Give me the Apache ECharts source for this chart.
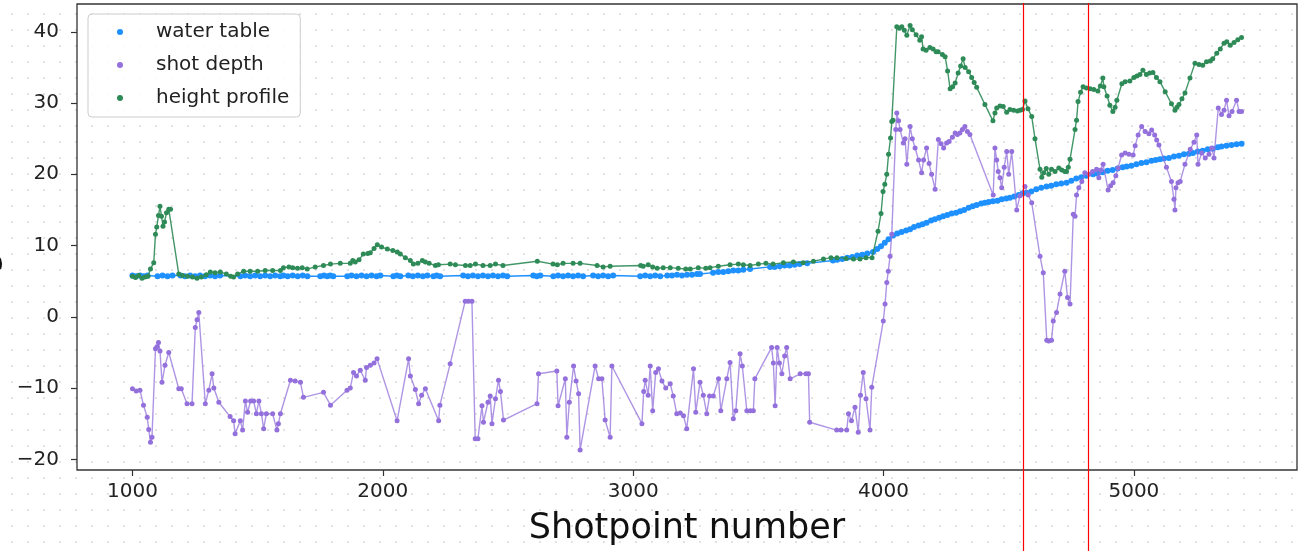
<!DOCTYPE html>
<html>
<head>
<meta charset="utf-8">
<script src="https://cdn.jsdelivr.net/npm/echarts@6/dist/echarts.min.js"></script>
<style>
  html, body { margin: 0; padding: 0; }
  body {
    width: 1299px; height: 551px; overflow: hidden;
    background-color: #fff;
    background-image: radial-gradient(circle, #e2e2e2 0.9px, transparent 1.3px);
    background-size: 16px 16px;
    background-position: 4px 6px;
  }
  #chart { width: 1299px; height: 551px; }
</style>
</head>
<body>
<div id="chart"></div>
<script>
// water table (blue dots)
const wtX = [1000,1015,1030,1045,1060, 1100,1120,1140,1160,
  1192,1210,1230,1250,1270,1290,1310,1330,1350,
  1431,1450,1470,1490,1510,1530,1550,1570,1590,1603,
  1620,1640,1660,1680,1699, 1750,1765,1778, 1790,1802,
  1858,1875,1895,1915,1935,1955,1975,1990, 2042,2056,2070,
  2102,2120,2140,2160,2178, 2202,2215,2229,
  2321,2340,2360,2380,2400,2420,2440,2460,2480,2497, 2601,2615,2629,
  2681,2700,2720,2740,2760,2780,2800, 2840,2860,2880,2900,2920,
  3028,3048,3068,3088,3108, 3136,3155,3175,3195,3215,3235,3255,3267,
  3319,3340,3360,3380,3400,3420,3440,3467,
  3547,3565,3585,3605,3625,3645,3665,3695,
  3798,3815,3835,3855,3875,3895,3915,3935,3958,
  3975,3990,4005,4020,4038,4055,4072,4090,4106,4122,4140,4156,4172,4190,4205,4222,4238,
  4255,4272,4290,4306,4322,4340,4356,4372,4390,4405,4420,4437,4455,4472,4490,4505,
  4522,4540,4555,4571,4590,4610,4630,4651,4670,4690,4710,4731,4750,4770,4790,4810,
  4837,4855,4875,4895,4915,4935,4955,4971,4990,5010,5030,5050,5070,5087,5104,
  5120,5140,5160,5180,5200,5220,5236,5255,5275,5295,5315,5335,5350,5370,5390,5410,5430]
const wtY = [5.8,5.7,5.8,5.7,5.8, 5.7,5.8,5.7,5.8,
  5.8,5.7,5.8,5.7,5.8,5.7,5.8,5.7,5.8,
  5.7,5.8,5.7,5.8,5.7,5.8,5.7,5.8,5.7,5.8,
  5.7,5.8,5.7,5.8,5.7, 5.7,5.8,5.7, 5.8,5.7,
  5.7,5.8,5.7,5.8,5.7,5.8,5.7,5.8, 5.7,5.8,5.7,
  5.8,5.7,5.8,5.7,5.8, 5.7,5.8,5.7,
  5.8,5.7,5.8,5.7,5.8,5.7,5.8,5.7,5.8,5.7, 5.8,5.7,5.8,
  5.7,5.8,5.7,5.8,5.7,5.8,5.7, 5.8,5.7,5.8,5.7,5.8,
  5.7,5.8,5.7,5.8,5.7, 5.8,5.8,5.9,5.8,5.9,5.9,6.0,6.0,
  6.2,6.3,6.3,6.4,6.5,6.5,6.6,6.7,
  7.0,7.0,7.1,7.2,7.2,7.3,7.4,7.5,
  7.9,8.0,8.1,8.3,8.4,8.6,8.7,8.9,9.1,
  9.5,9.9,10.4,10.9,11.4,11.7,11.9,12.1,12.3,12.6,12.8,13.0,13.2,13.5,13.7,13.9,14.1,
  14.3,14.5,14.6,14.8,15.0,15.3,15.5,15.7,15.9,16.0,16.1,16.2,16.3,16.5,16.6,16.7,
  16.9,17.1,17.3,17.4,17.6,17.9,18.1,18.3,18.4,18.6,18.7,18.8,19.1,19.4,19.6,19.8,
  20.0,20.1,20.3,20.5,20.6,20.8,21.0,21.1,21.2,21.4,21.6,21.7,21.9,22.0,22.1,
  22.2,22.3,22.5,22.6,22.8,22.9,23.0,23.2,23.3,23.5,23.6,23.8,23.9,24.0,24.1,24.2,24.3]

// shot depth (purple)
const sdX = [1000,1015,1030,1044,1059,1065,1072,1078,1092,1098,1104,1110,1118,1130,1145,
  1185,1195,1218,1238,1251,1258,1265,1291,1305,1318,1325,1345,1390,1404,1410,1431,1440,
  1451,1460,1472,1484,1495,1505,1515,1524,1535,1560,1577,1583,1591,1631,1650,1671,1683,
  1763,1791,1857,1870,1883,1895,1910,1930,1935,1950,1965,1977,2057,2103,2110,2130,2143,
  2155,2170,2223,2228,2269,2329,2342,2356,2369,2380,2396,2402,2420,2429,2436,2450,2462,
  2470,2482,2616,2622,2695,2700,2729,2735,2745,2762,2772,2782,2788,2848,2862,2875,2888,
  2908,2915,3035,3042,3048,3060,3068,3078,3090,3101,3115,3130,3148,3160,3174,3188,3201,
  3214,3241,3250,3267,3280,3294,3305,3320,3341,3350,3374,3387,3400,3410,3427,3436,3454,
  3468,3480,3486,3553,3560,3567,3575,3584,3594,3605,3613,3627,3667,3690,3700,3705,3813,
  3830,3853,3860,3872,3886,3899,3908,3919,3930,3946,3953,3999,4006,4013,4019,4026,4033,
  4049,4053,4060,4066,4079,4086,4093,4106,4115,4126,4140,4152,4160,4172,4182,4192,4206,
  4219,4230,4240,4252,4262,4275,4286,4295,4305,4315,4325,4335,4345,4438,4445,4452,4458,
  4465,4472,4482,4492,4500,4512,4532,4545,4565,4578,4592,4625,4638,4652,4660,4671,4678,
  4691,4705,4724,4735,4745,4758,4765,4771,4780,4792,4804,4820,4835,4851,4860,4868,4877,
  4897,4907,4917,4928,4937,4951,4965,4980,4997,5005,5017,5031,5045,5060,5071,5083,5091,
  5100,5130,5150,5160,5164,5168,5176,5185,5204,5225,5240,5251,5256,5271,5285,5300,5311,
  5320,5337,5350,5360,5370,5380,5392,5410,5420,5430]
const sdY = [-10.1,-10.4,-10.3,-12.4,-14.1,-15.8,-17.6,-16.9,-4.5,-4.2,-3.6,-4.8,-9.2,-6.8,-5.0,
  -10.1,-10.1,-12.2,-12.2,-1.5,-0.4,0.6,-12.2,-10.3,-8.0,-10.0,-12.0,-14.0,-14.6,-16.4,-14.6,-15.9,
  -11.8,-13.4,-11.8,-11.8,-13.6,-11.8,-13.6,-15.7,-13.6,-13.6,-15.9,-15.0,-13.6,-8.9,-9.0,-9.2,-11.3,
  -10.6,-12.4,-10.3,-10.0,-7.8,-8.3,-7.5,-8.9,-7.1,-6.8,-6.5,-5.9,-14.6,-5.9,-8.3,-10.2,-12.2,
  -11.0,-10.1,-14.6,-12.4,-6.6,2.2,2.2,2.2,-17.1,-17.1,-12.5,-14.8,-12.0,-11.1,-15.0,-11.5,-8.9,
  -10.5,-14.5,-12.2,-8.0,-7.6,-12.5,-8.7,-16.9,-12.0,-6.9,-9.0,-10.8,-18.7,-6.9,-8.7,-8.7,-14.5,
  -16.9,-6.9,-15.0,-10.5,-8.9,-11.0,-6.9,-13.2,-7.8,-7.3,-9.0,-10.0,-9.4,-11.1,-13.6,-13.5,-13.9,
  -15.7,-7.3,-13.4,-9.2,-11.0,-13.6,-11.1,-11.1,-8.7,-13.2,-8.7,-6.4,-14.3,-13.2,-5.2,-6.9,-13.2,
  -13.2,-13.2,-8.7,-4.3,-6.5,-12.5,-4.3,-6.5,-8.0,-5.5,-4.3,-8.7,-8.0,-8.0,-8.0,-14.8,-15.9,
  -15.9,-15.9,-13.6,-14.6,-12.7,-16.2,-11.0,-7.8,-11.5,-15.9,-9.9,-0.6,1.8,4.8,6.4,8.5,11.6,
  26.3,28.6,27.5,26.3,24.4,25.0,21.4,26.7,25.0,23.7,22.0,20.2,22.0,23.7,21.5,20.0,17.9,
  24.9,24.3,23.7,24.4,24.6,25.2,25.8,25.6,25.8,26.3,26.7,26.0,25.6,17.1,23.7,22.0,20.4,
  19.5,18.1,21.0,23.2,20.0,23.2,15.0,17.0,18.3,17.1,16.0,8.5,6.2,-3.3,-3.4,-3.3,-0.6,
  0.6,3.2,6.4,2.7,1.8,14.4,14.1,17.1,18.1,19.0,20.2,20.0,20.4,20.7,19.5,20.6,21.4,
  17.8,18.4,18.8,19.8,20.9,22.7,23.0,22.8,22.7,24.0,25.5,26.7,26.0,25.7,26.2,25.5,24.8,
  24.1,21.0,19.0,16.5,15.0,18.1,18.8,19.0,21.4,23.5,24.5,25.5,21.4,23.0,22.3,22.8,23.7,
  22.3,29.3,28.4,29.0,30.4,28.2,28.8,30.4,28.8,28.8]

// height profile (green)
const hpX = [1000,1012,1025,1038,1050,1062,1072,1085,1092,1097,1104,1110,1116,1122,1128,1136,
  1145,1152,1185,1200,1220,1240,1258,1275,1295,1311,1330,1351,1375,1392,1404,1420,1444,1470,
  1500,1530,1560,1591,1603,1625,1640,1659,1678,1698,1730,1763,1791,1830,1870,1880,1890,1905,
  1922,1940,1950,1965,1978,1995,2018,2040,2058,2070,2090,2110,2122,2140,2158,2170,2185,2210,
  2222,2269,2290,2330,2349,2370,2400,2429,2450,2480,2617,2680,2697,2720,2760,2788,2856,2880,
  2908,3030,3040,3060,3078,3096,3120,3148,3180,3210,3228,3260,3290,3307,3340,3387,3420,3440,
  3467,3500,3530,3559,3600,3640,3679,3720,3760,3790,3814,3850,3880,3906,3930,3954,3978,3990,
  3998,4005,4013,4020,4028,4033,4038,4053,4063,4073,4083,4093,4106,4115,4130,4145,4152,4158,
  4170,4185,4198,4210,4218,4235,4246,4256,4266,4276,4286,4298,4308,4318,4326,4340,4352,4362,
  4372,4405,4437,4445,4452,4465,4478,4492,4505,4520,4535,4545,4555,4565,4577,4592,4605,4625,
  4632,4640,4650,4660,4671,4685,4700,4712,4724,4731,4738,4745,4765,4771,4777,4787,4797,4810,
  4825,4840,4856,4866,4876,4880,4893,4904,4916,4925,4932,4952,4965,4984,5000,5012,5024,5036,
  5050,5063,5076,5090,5104,5125,5150,5164,5172,5180,5192,5204,5224,5244,5260,5275,5290,5305,
  5315,5331,5345,5360,5371,5385,5400,5415,5430]
const hpY = [5.7,5.5,5.8,5.4,5.6,5.7,6.7,7.6,11.6,12.6,14.2,15.5,14.1,12.7,13.3,14.6,
  15.1,15.1,6.0,5.8,5.7,5.6,5.4,5.6,5.9,6.3,6.2,6.3,6.0,5.7,5.6,6.0,6.4,6.4,
  6.4,6.5,6.5,6.5,6.9,7.0,6.9,6.8,6.9,6.7,7.0,7.2,7.4,7.5,7.5,7.9,7.7,8.0,
  8.8,8.9,9.0,9.6,10.1,9.8,9.5,9.3,9.1,8.8,8.3,7.9,7.4,7.5,7.9,7.7,7.5,7.2,
  7.3,7.4,7.3,7.2,7.2,7.4,7.2,7.2,7.4,7.2,7.8,7.4,7.3,7.5,7.5,7.5,7.2,7.0,
  7.1,7.2,7.1,7.3,7.0,6.8,6.9,6.9,6.8,6.7,6.7,6.9,6.8,6.9,7.1,7.3,7.4,7.3,
  7.2,7.4,7.5,7.4,7.6,7.7,7.6,7.8,8.1,8.3,8.3,8.2,8.1,8.1,8.3,8.3,12.0,14.5,
  17.6,18.6,20.0,22.8,25.1,27.4,27.6,40.7,40.5,40.7,40.2,39.5,40.9,40.3,39.6,38.8,39.3,37.6,
  37.4,37.8,37.6,37.2,37.2,36.8,36.5,34.5,32.0,32.3,32.8,34.2,35.2,36.2,35.0,34.4,33.6,32.9,
  32.2,29.8,27.5,28.6,29.3,29.6,29.5,28.7,29.1,29.0,28.9,29.0,29.1,30.3,29.2,28.1,25.0,20.7,
  19.6,20.2,20.8,20.0,20.7,20.4,20.9,20.6,20.4,20.4,21.0,22.1,26.3,27.6,30.2,31.5,32.3,32.1,
  32.0,31.9,31.7,32.4,33.5,32.3,31.0,29.7,28.8,29.4,30.4,32.7,33.0,33.1,33.6,33.8,34.0,34.6,
  34.0,34.2,34.3,33.6,33.0,31.6,29.9,29.0,29.4,29.8,30.6,31.4,33.5,35.6,35.4,35.3,35.8,35.9,
  36.2,37.0,37.6,38.4,38.6,38.1,38.5,38.9,39.2]

const xTicks = [1000, 2000, 3000, 4000, 5000]
const yTicks = [-20, -10, 0, 10, 20, 30, 40]
const markerX = [4557, 4816]

const font = 'DejaVu Sans'
const pairs = (xs, ys) => xs.map((x, i) => [x, ys[i]])
// matplotlib style numbers: no thousands separator, real minus sign
const tickText = v => (v < 0 ? '\u2212' + Math.abs(v) : String(v))

const chart = echarts.init(document.getElementById('chart'), null, { renderer: 'canvas' })

function lineSeries(name, xs, ys, color, lineOpacity, size, z) {
  return {
    name,
    type: 'line',
    data: pairs(xs, ys),
    symbol: 'circle',
    symbolSize: size,
    showAllSymbol: true,
    z,
    itemStyle: { color },
    lineStyle: { color, width: 1.4, opacity: lineOpacity },
    emphasis: { disabled: true }
  }
}

const option = {
  animation: false,
  backgroundColor: 'transparent',
  grid: {
    left: 77, right: 2, top: 4, bottom: 81,
    outerBoundsMode: 'none',
    containLabel: false,
    show: true,
    borderColor: '#333',
    borderWidth: 1.3,
    backgroundColor: 'transparent'
  },
  legend: {
    left: 88,
    top: 14,
    orient: 'vertical',
    icon: 'circle',
    itemWidth: 6,
    itemHeight: 6,
    itemGap: 11,
    padding: [7, 11, 8, 29],
    backgroundColor: 'rgba(255,255,255,0.85)',
    borderColor: '#cccccc',
    borderWidth: 1,
    borderRadius: 4,
    textStyle: { fontFamily: font, fontSize: 20, color: '#222', lineHeight: 22, padding: [0, 0, 0, 28] },
    data: ['water table', 'shot depth', 'height profile']
  },
  xAxis: {
    type: 'value',
    min: 778.5,
    max: 5651.5,
    name: 'Shotpoint number',
    nameLocation: 'middle',
    nameGap: 41,
    nameTextStyle: { fontFamily: font, fontSize: 35, color: '#111' },
    axisLine: { show: false, onZero: false },
    axisTick: { show: true, length: 6, lineStyle: { color: '#333', width: 1.2 }, customValues: xTicks },
    axisLabel: { fontFamily: font, fontSize: 20, color: '#222', margin: 12, customValues: xTicks, formatter: tickText },
    splitLine: { show: false }
  },
  yAxis: {
    type: 'value',
    min: -21.5,
    max: 43.9,
    name: 'Height (m)',
    nameLocation: 'middle',
    nameGap: 74,
    nameTextStyle: { fontFamily: font, fontSize: 35, color: '#111' },
    axisLine: { show: false, onZero: false },
    axisTick: { show: true, length: 6, lineStyle: { color: '#333', width: 1.2 }, customValues: yTicks },
    axisLabel: { fontFamily: font, fontSize: 20, color: '#222', margin: 18, customValues: yTicks, formatter: tickText },
    splitLine: { show: false }
  },
  series: [
    lineSeries('water table', wtX, wtY, '#1e90ff', 1, 6, 2),
    lineSeries('shot depth', sdX, sdY, '#9370db', 0.75, 5, 3),
    lineSeries('height profile', hpX, hpY, '#2e8b57', 0.9, 5, 4)
  ]
}

chart.setOption(option)

// red vertical markers run from the top of the plot down past the axis
const markerLines = markerX.map(v => {
  const px = Math.round(chart.convertToPixel({ xAxisIndex: 0 }, v)) + 0.5
  return {
    type: 'line',
    z: 100,
    shape: { x1: px, y1: 3, x2: px, y2: 551 },
    style: { stroke: '#ff0000', lineWidth: 1.2 }
  }
})
chart.setOption({ graphic: markerLines })
</script>
</body>
</html>
